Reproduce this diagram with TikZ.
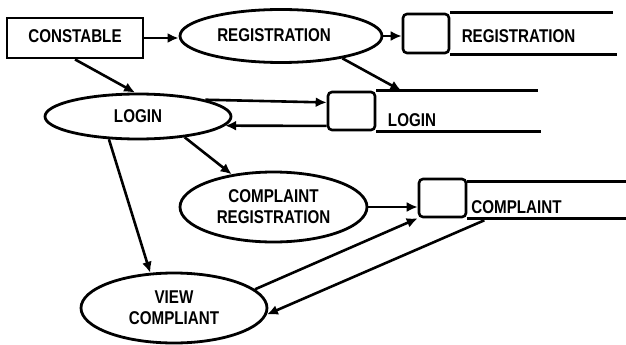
\documentclass[tikz,border=0pt]{standalone}
\usepackage{fontspec}
\newfontfamily\lbl[FakeStretch=0.82]{Liberation Sans}
\usetikzlibrary{shapes.geometric,arrows.meta,calc}
\begin{document}
\begin{tikzpicture}[x=1pt,y=-1pt,line width=2.6pt,
  every node/.style={font=\lbl\bfseries\fontsize{18.5}{21}\selectfont, align=center},
  proc/.style={draw, ellipse, line width=2.8pt, inner sep=0pt},
  storebox/.style={draw, rounded corners=4pt, minimum width=47pt, minimum height=38pt, inner sep=0pt},
  flow/.style={-{Latex[length=11pt,width=10pt]}}]
\useasboundingbox (0,0) rectangle (626,345);
% processes and entity
\node[draw, line width=2.8pt, minimum width=136pt, minimum height=40pt, inner sep=0pt] (const) at (75,38) {\raisebox{4pt}{CONSTABLE}};
\node[proc, minimum width=202pt, minimum height=53pt] (reg) at (281,36) {\raisebox{2pt}{REGISTRATION}\hspace*{14pt}};
\node[proc, minimum width=186pt, minimum height=45pt] (login) at (138,116.5) {LOGIN};
\node[proc, minimum width=187pt, minimum height=70pt] (creg) at (273.5,207) {COMPLAINT\\REGISTRATION};
\node[proc, minimum width=186pt, minimum height=70pt] (view) at (174,308) {VIEW\\COMPLIANT};
% data stores
\node[storebox, minimum height=39pt, minimum width=46pt] (rbox) at (426,33.5) {};
\draw (rbox.north east) -- ++(163,0);
\draw (rbox.south east) -- ++(167,0);
\node (rlab) at (518.5,36) {REGISTRATION};
\node[storebox] (lbox) at (351.5,111) {};
\draw (lbox.north east) -- ++(162,0);
\draw (lbox.south east) -- ++(165,0);
\node (llab) at (412,120) {LOGIN};
\node[storebox] (cbox) at (442.5,198) {};
\draw ($(cbox.north east)+(0,4)$) -- ++(162,0);
\draw (cbox.south east) -- ++(162,0);
\node (clab) at (516.5,207.5) {COMPLAINT};
% flows
\draw[flow] (const.east) -- (const.east -| reg.west);
\draw[flow] (reg.east) -- (reg.east -| rbox.west);
\draw[flow] (reg.-20) -- ($(lbox.north east)+(25,0)$);
\draw[flow] (const.south) -- (login.97);
\draw[flow] (login.14) -- (lbox.161);
\draw[flow] (lbox.211) -- (login.-6);
\draw[flow] (login.-24) -- (creg.142);
\draw[flow] (login.218) -- (view.124);
\draw[flow] (creg.east) -- (creg.east -| cbox.west);
\draw[flow] (view.13) -- (cbox.south west);
\draw[flow] ($(cbox.south east)+(17,2)$) -- (view.-4);
\end{tikzpicture}
\end{document}
